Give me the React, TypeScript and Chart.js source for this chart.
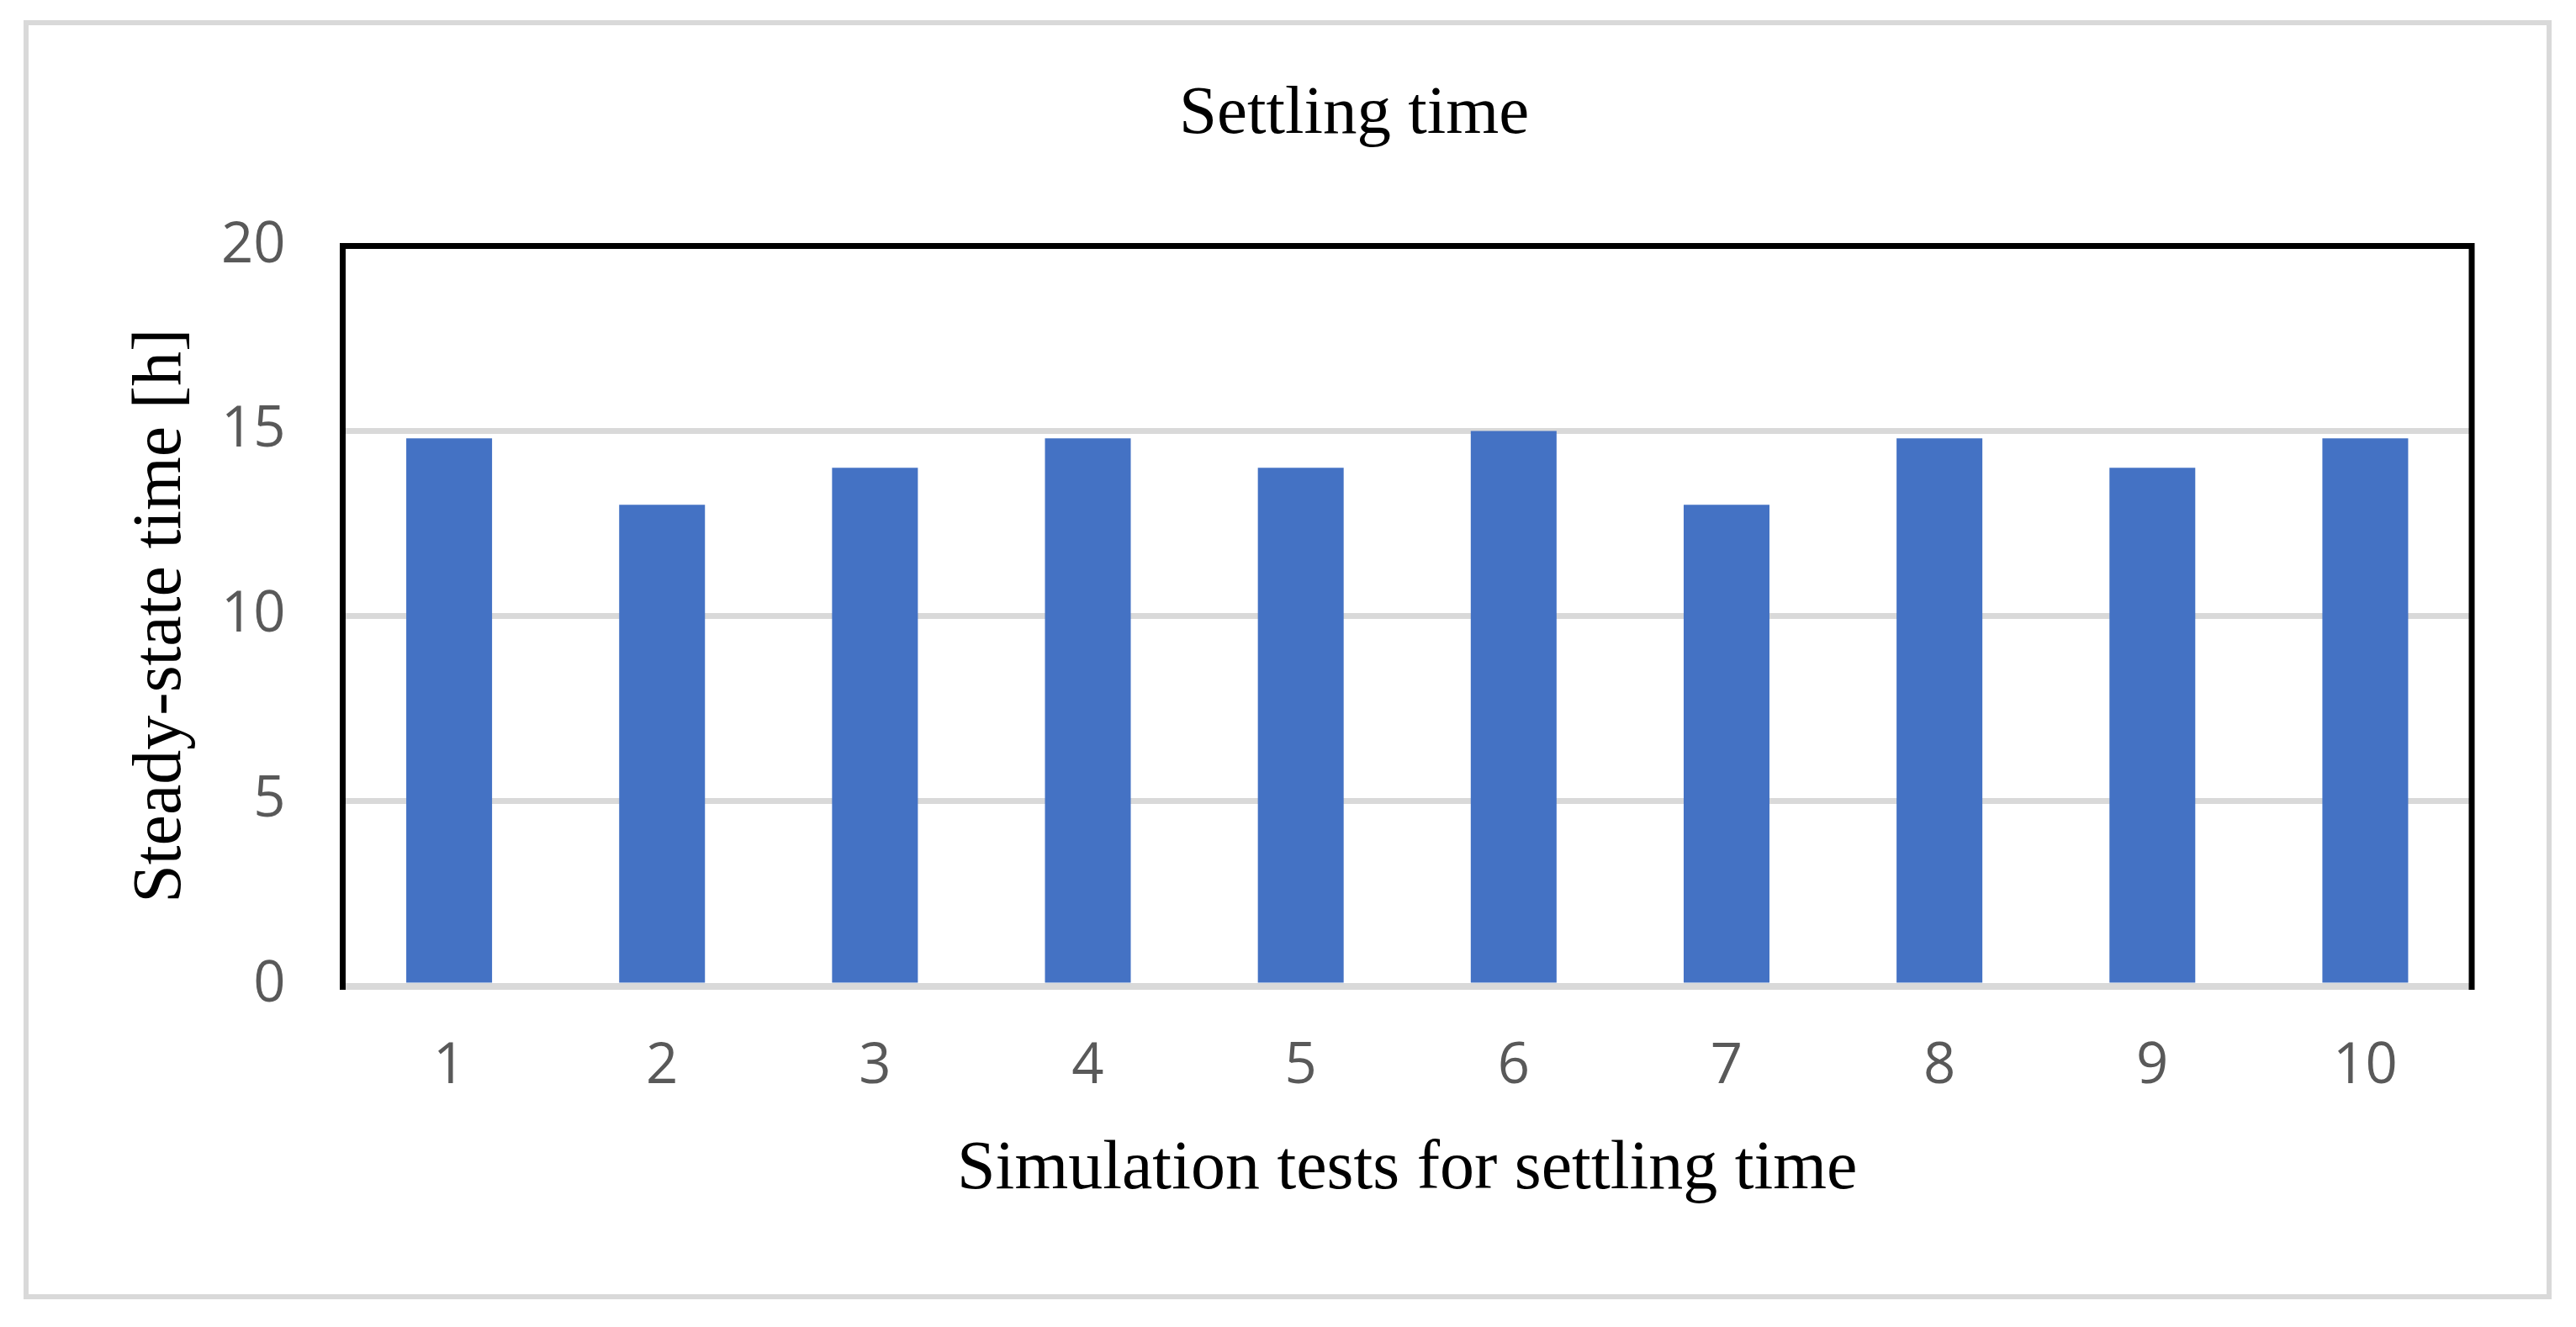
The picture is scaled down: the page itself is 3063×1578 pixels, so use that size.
import React, { useEffect, useRef } from "react";
import { Chart, registerables } from "chart.js";

Chart.register(...registerables);

const categories = ["1", "2", "3", "4", "5", "6", "7", "8", "9", "10"];
const settlingTimes = [14.8, 13, 14, 14.8, 14, 15, 13, 14.8, 14, 14.8];
const yMin = 0;
const yMax = 20;
const yStep = 5;
const chartTitle = "Settling time";
const xAxisTitle = "Simulation tests for settling time";
const yAxisTitle = "Steady-state time [h]";

const W = 3063;
const H = 1578;

const framePlugin = {
  id: "framePlugin",
  beforeDraw(chart: any) {
    const ctx = chart.ctx;
    ctx.save();
    ctx.fillStyle = "#ffffff";
    ctx.fillRect(0, 0, chart.width, chart.height);
    ctx.strokeStyle = "#d9d9d9";
    ctx.lineWidth = 6;
    ctx.strokeRect(31, 27, 3000, 1515);
    ctx.restore();
  },
  afterDatasetsDraw(chart: any) {
    const { ctx, chartArea } = chart;
    const { left, top, right, bottom } = chartArea;
    ctx.save();
    // baseline (zero line)
    ctx.strokeStyle = "#d9d9d9";
    ctx.lineWidth = 7;
    ctx.beginPath();
    ctx.moveTo(left, bottom + 1.5);
    ctx.lineTo(right, bottom + 1.5);
    ctx.stroke();
    // black plot border (left, top, right)
    ctx.strokeStyle = "#000000";
    ctx.lineWidth = 7;
    ctx.lineJoin = "miter";
    ctx.lineCap = "butt";
    ctx.beginPath();
    ctx.moveTo(left, bottom + 5);
    ctx.lineTo(left, top);
    ctx.lineTo(right, top);
    ctx.lineTo(right, bottom + 5);
    ctx.stroke();
    ctx.restore();
  },
};

export default function App() {
  const canvasRef = useRef<HTMLCanvasElement | null>(null);

  useEffect(() => {
    if (!canvasRef.current) return;
    const chart = new Chart(canvasRef.current, {
      type: "bar",
      data: {
        labels: categories,
        datasets: [
          {
            label: chartTitle,
            data: settlingTimes,
            backgroundColor: "#4472c4",
            borderWidth: 0,
            barPercentage: 0.403,
            categoryPercentage: 1,
            yAxisID: "y",
          },
        ],
      },
      options: {
        responsive: false,
        animation: false,
        devicePixelRatio: 1,
        layout: { padding: { left: 200, right: 43, top: 0, bottom: 0 } },
        plugins: {
          legend: { display: false },
          tooltip: { enabled: false },
          title: {
            display: true,
            text: chartTitle,
            color: "#000000",
            font: { family: "'Liberation Serif', serif", size: 81, weight: "normal" },
            padding: { top: 88, bottom: 107.3 },
          },
        },
        scales: {
          x: {
            grid: { display: false, drawTicks: false },
            border: { display: false },
            ticks: {
              color: "#595959",
              font: { family: "'Open Sans', sans-serif", size: 67 },
              padding: 57,
              maxRotation: 0,
            },
            title: {
              display: true,
              text: xAxisTitle,
              color: "#000000",
              font: { family: "'Liberation Serif', serif", size: 82, weight: "normal" },
              padding: { top: 0, bottom: 137 },
            },
            afterFit(scale: any) {
              scale.height = 406;
            },
          },
          y: {
            position: "left",
            min: yMin,
            max: yMax,
            grid: { color: "#d9d9d9", lineWidth: 7, drawTicks: false },
            border: { display: false },
            ticks: {
              stepSize: yStep,
              color: "#595959",
              font: { family: "'Open Sans', sans-serif", size: 67 },
              padding: 68,
            },
            title: {
              display: true,
              text: yAxisTitle,
              color: "#000000",
              font: { family: "'Liberation Serif', serif", size: 82, weight: "normal" },
              padding: { top: -57, bottom: 0 },
            },
            afterFit(scale: any) {
              scale.width = 207.5;
            },
          },
          yRight: {
            type: "linear",
            position: "right",
            display: true,
            grid: { display: false, drawTicks: false },
            border: { display: false },
            ticks: { display: false },
            afterFit(scale: any) {
              scale.width = 81;
            },
          },
        },
      },
      plugins: [framePlugin],
    });
    return () => chart.destroy();
  }, []);

  return (
    <div style={{ position: "fixed", left: 0, top: 0, width: W, height: H, background: "#fff" }}>
      <canvas ref={canvasRef} width={W} height={H} style={{ display: "block", width: W, height: H }} />
    </div>
  );
}
